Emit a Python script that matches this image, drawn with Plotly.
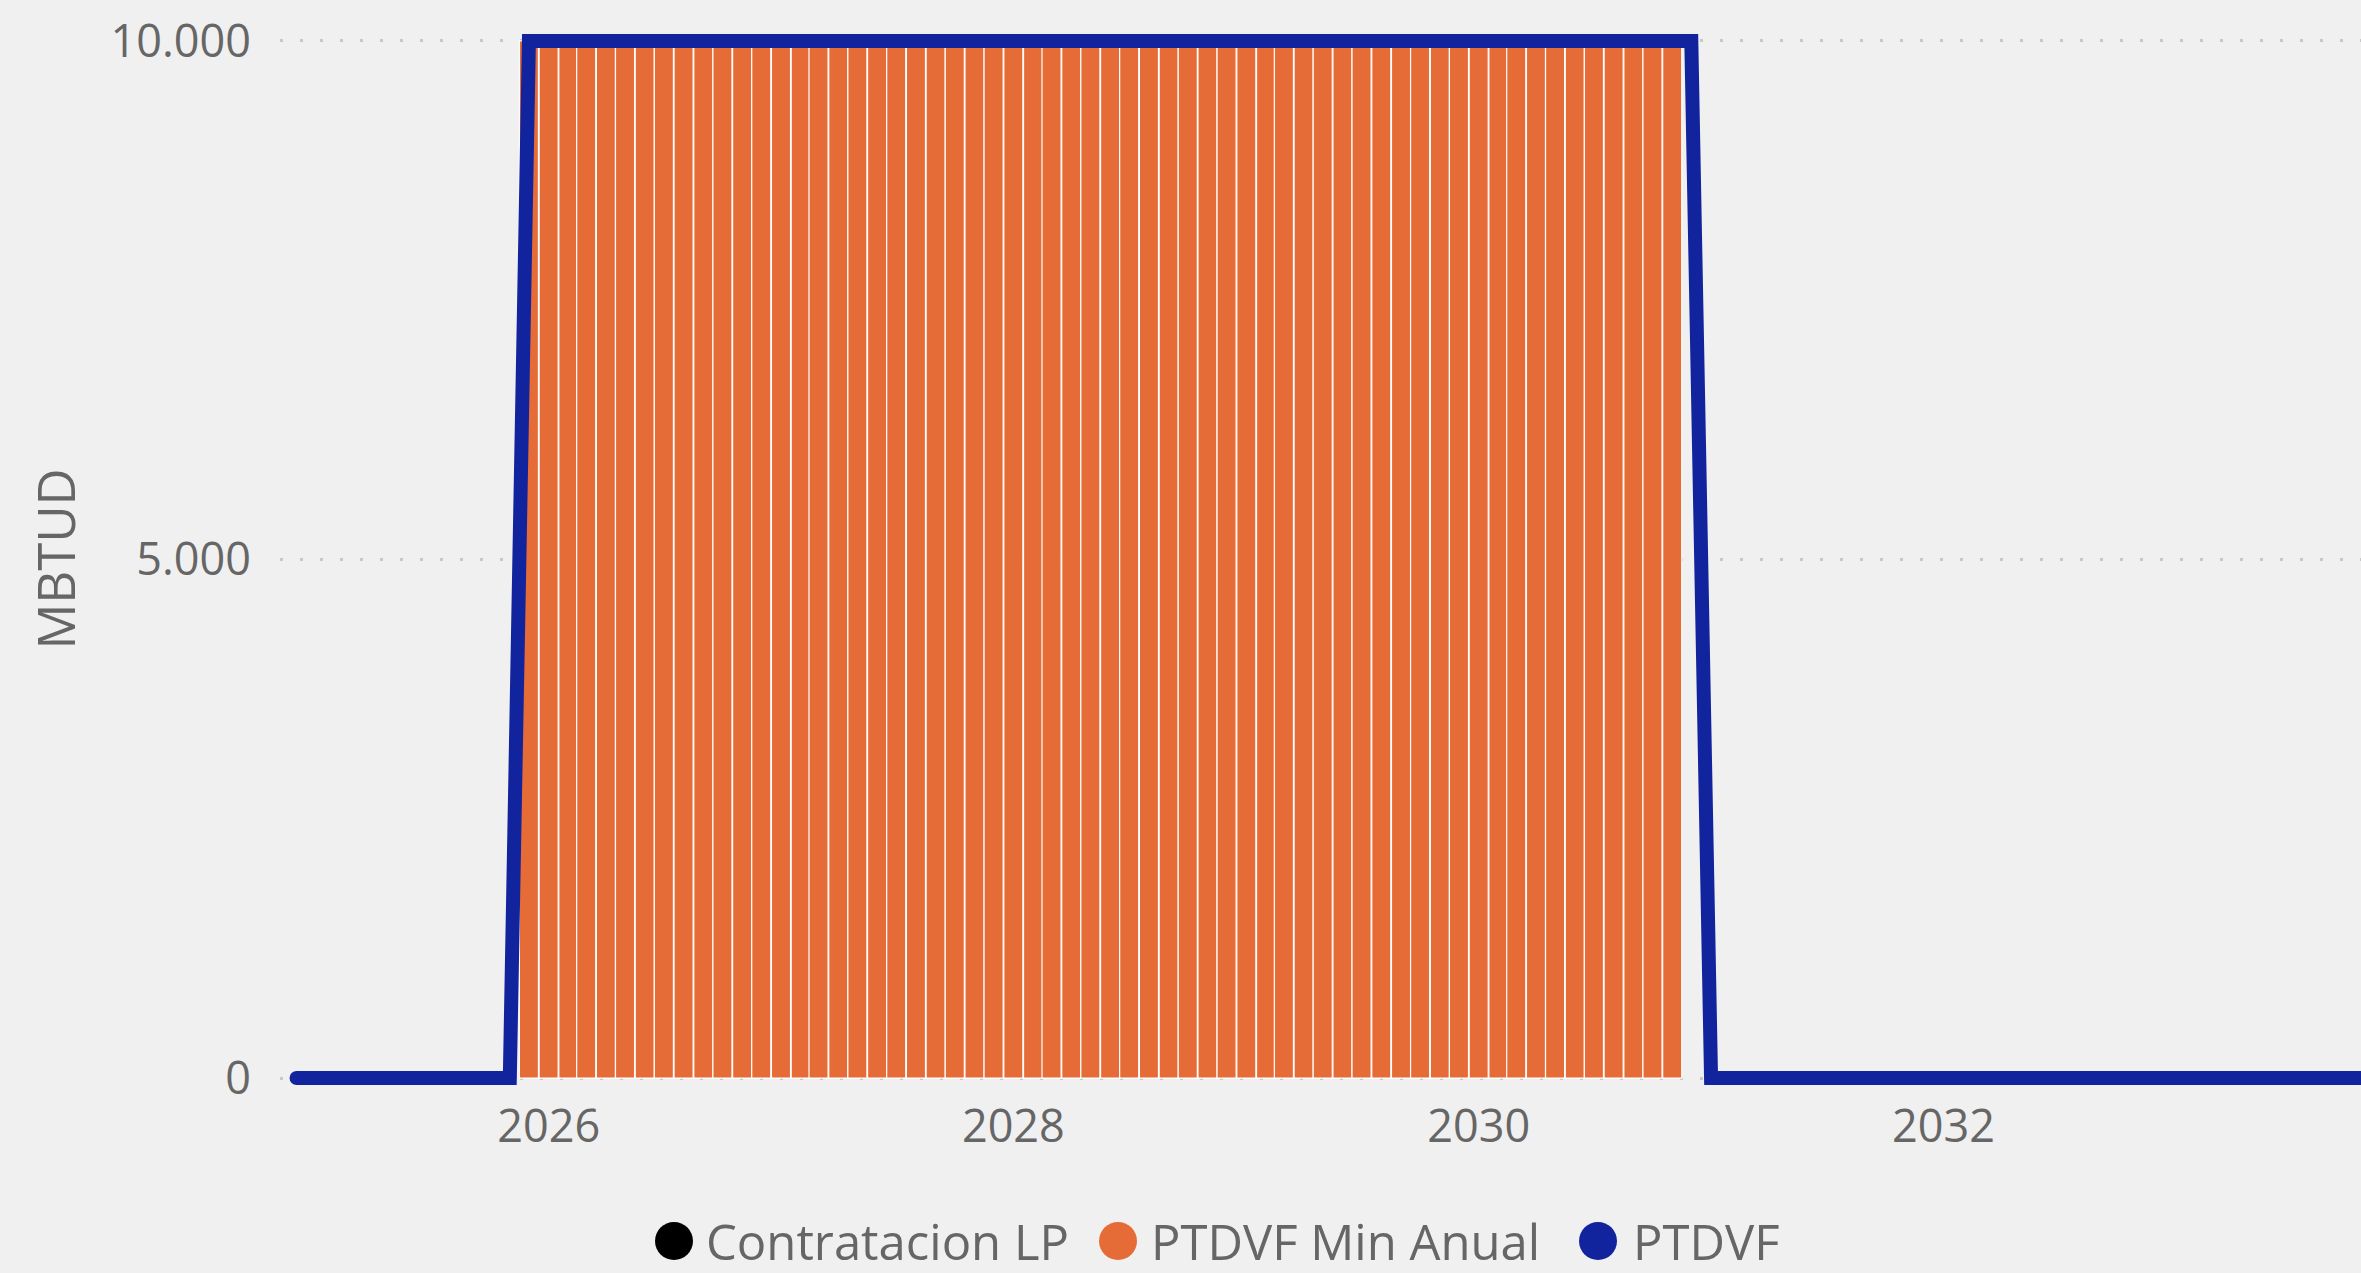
import pandas as pd
import plotly.graph_objects as go

# ---------------- data ----------------
months = pd.date_range("2024-12-01", "2033-12-01", freq="MS")

# PTDVF (line), one value per month, Dec-2024 .. Dec-2033
ptdvf = (
    [0]                                                            # 2024-12
    + [0, 0, 0, 0, 0, 0, 0, 0, 0, 0, 0, 10000]                     # 2025
    + [10000, 10000, 10000, 10000, 10000, 10000, 10000, 10000, 10000, 10000, 10000, 10000]  # 2026
    + [10000, 10000, 10000, 10000, 10000, 10000, 10000, 10000, 10000, 10000, 10000, 10000]  # 2027
    + [10000, 10000, 10000, 10000, 10000, 10000, 10000, 10000, 10000, 10000, 10000, 10000]  # 2028
    + [10000, 10000, 10000, 10000, 10000, 10000, 10000, 10000, 10000, 10000, 10000, 10000]  # 2029
    + [10000, 10000, 10000, 10000, 10000, 10000, 10000, 10000, 10000, 10000, 10000, 10000]  # 2030
    + [0, 0, 0, 0, 0, 0, 0, 0, 0, 0, 0, 0]                         # 2031
    + [0, 0, 0, 0, 0, 0, 0, 0, 0, 0, 0, 0]                         # 2032
    + [0, 0, 0, 0, 0, 0, 0, 0, 0, 0, 0, 0]                         # 2033
)

# PTDVF Min Anual (bars), one value per month, Dec-2024 .. Dec-2033
ptdvf_min_anual = (
    [None]                                                                         # 2024-12
    + [None, None, None, None, None, None, None, None, None, None, None, 10000]    # 2025
    + [10000, 10000, 10000, 10000, 10000, 10000, 10000, 10000, 10000, 10000, 10000, 10000]  # 2026
    + [10000, 10000, 10000, 10000, 10000, 10000, 10000, 10000, 10000, 10000, 10000, 10000]  # 2027
    + [10000, 10000, 10000, 10000, 10000, 10000, 10000, 10000, 10000, 10000, 10000, 10000]  # 2028
    + [10000, 10000, 10000, 10000, 10000, 10000, 10000, 10000, 10000, 10000, 10000, 10000]  # 2029
    + [10000, 10000, 10000, 10000, 10000, 10000, 10000, 10000, 10000, 10000, 10000, None]   # 2030
    + [None] * 12                                                                  # 2031
    + [None] * 12                                                                  # 2032
    + [None] * 12                                                                  # 2033
)

# Contratacion LP has no visible values
contratacion_lp_x = [None]
contratacion_lp_y = [None]

series_names = ["Contratacion LP", "PTDVF Min Anual", "PTDVF"]
series_colors = ["#000000", "#E66C37", "#12239E"]

y_ticks = [0, 5000, 10000]
y_title = "MBTUD"

# ---------------- style / layout ----------------
W, H = 2361, 1273
ML, MR, MT, MB = 280, 0, 15, 169
PW, PH = W - ML - MR, H - MT - MB
FONT = "Segoe UI, Open Sans, sans-serif"
TXT = "#666666"
BG = "#F0F0F0"

fig = go.Figure()

fig.add_trace(go.Bar(
    x=months, y=ptdvf_min_anual, name=series_names[1],
    marker=dict(color=series_colors[1], line=dict(color="#FFFFFF", width=1.2)),
    width=30 * 24 * 3600 * 1000, showlegend=False,
))
fig.add_trace(go.Scatter(
    x=contratacion_lp_x, y=contratacion_lp_y, name=series_names[0], mode="lines",
    line=dict(color=series_colors[0]), showlegend=False,
))
fig.add_trace(go.Scatter(
    x=months, y=ptdvf, name=series_names[2], mode="lines",
    line=dict(color=series_colors[2], width=14), showlegend=False,
))

# custom legend (large round markers)
legend_dot_px = [674, 1118, 1598]
legend_text_px = [704, 1149, 1631]
legend_y_px = 1241
plot_bottom = H - MB
shapes = []
annotations = []
for name, col, dx, tx in zip(series_names, series_colors, legend_dot_px, legend_text_px):
    shapes.append(dict(
        type="circle", xref="paper", yref="paper",
        xsizemode="pixel", ysizemode="pixel",
        xanchor=(dx - ML) / PW, yanchor=(plot_bottom - legend_y_px) / PH,
        x0=-19, x1=19, y0=-19, y1=19,
        fillcolor=col, line=dict(width=0),
    ))
    annotations.append(dict(
        text=name, xref="paper", yref="paper",
        x=(tx - ML) / PW, y=(plot_bottom - legend_y_px) / PH,
        xanchor="left", yanchor="middle", showarrow=False,
        font=dict(family=FONT, size=49, color=TXT),
    ))

annotations.append(dict(
    text=y_title, xref="paper", yref="paper", x=0, y=0.5,
    xanchor="center", yanchor="middle", xshift=54 - ML, textangle=-90,
    showarrow=False, font=dict(family=FONT, size=51, color=TXT),
))

fig.update_layout(
    width=W, height=H,
    margin=dict(l=ML, r=MR, t=MT, b=MB, pad=0),
    paper_bgcolor=BG, plot_bgcolor=BG,
    separators=",.",
    font=dict(family=FONT, color=TXT, size=45),
    showlegend=False,
    shapes=shapes,
    annotations=annotations,
    xaxis=dict(
        type="date", range=["2024-11-05", "2033-10-18"],
        tick0="2026-01-01", dtick="M24", tickformat="%Y",
        showgrid=False, zeroline=False, showline=False, ticks="",
        tickfont=dict(family=FONT, size=45, color=TXT),
        ticklabelstandoff=-8,
    ),
    yaxis=dict(
        range=[-250, 10250], tickvals=y_ticks, tickformat=",d",
        showgrid=True, gridcolor="#C8C8C8", gridwidth=3, griddash="3px,17px",
        zeroline=False, showline=False, ticks="",
        tickfont=dict(family=FONT, size=45, color=TXT),
        ticklabelstandoff=28,
    ),
)

fig.write_html(
    "out.html",
    config={"displayModeBar": False},
    post_script=(
        "document.body.style.margin='0';document.body.style.overflow='hidden';"
        "document.body.style.background='" + BG + "';"
        "document.querySelectorAll('.js-line').forEach(function(p){"
        "p.style.strokeLinecap='round';p.style.strokeLinejoin='miter';});"
    ),
)
